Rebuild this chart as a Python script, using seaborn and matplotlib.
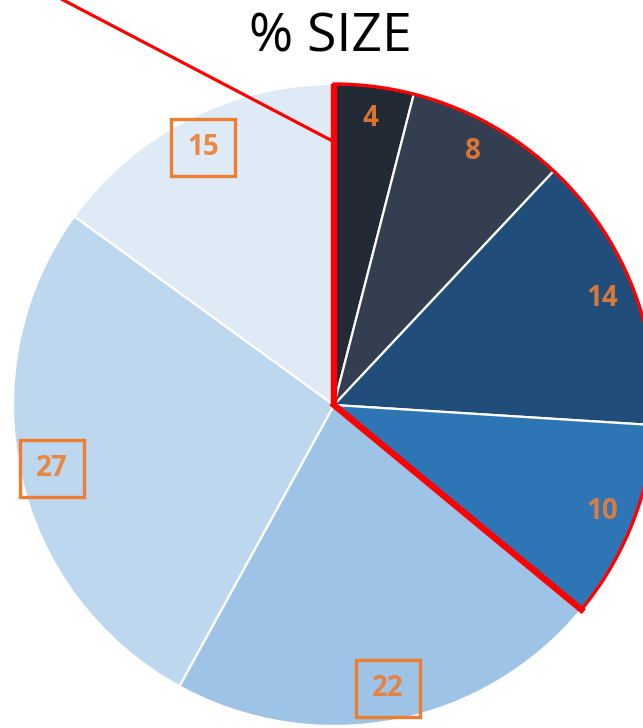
import numpy as np
import matplotlib
matplotlib.use("Agg")
import matplotlib.pyplot as plt
from matplotlib.patches import Wedge, Rectangle
import seaborn as sns

# Share of total size per segment, clockwise from 12 o'clock
segments = ["A", "B", "C", "D", "E", "F", "G"]
size_pct = [4, 8, 14, 10, 22, 27, 15]
colors = ["#222a35", "#333f50", "#204d79", "#2e75b6", "#9dc3e6", "#bdd7ee", "#deebf7"]
boxed = [False, False, False, False, True, True, True]
highlight_count = 4  # first four segments are outlined in red

sns.set_theme(style="white")
plt.rcParams["font.family"] = ["Open Sans", "DejaVu Sans"]

W, H, DPI = 643, 728, 100
fig = plt.figure(figsize=(W / DPI, H / DPI), dpi=DPI)
ax = fig.add_axes([0, 0, 1, 1])

scale = 321.0  # pixels per unit radius
cx, cy = 334.0, 405.0

palette = sns.color_palette(colors)
wedges, _ = ax.pie(
    size_pct,
    colors=palette,
    startangle=90,
    counterclock=False,
    radius=1.0,
    wedgeprops=dict(edgecolor="white", linewidth=1.6),
    frame=False,
)
ax.set_xlim(-cx / scale, (W - cx) / scale)
ax.set_ylim(-(H - cy) / scale, cy / scale)
ax.set_aspect("auto")
ax.axis("off")

orange = "#ed7d31"
box_w, box_h = 64 / scale, 57 / scale
total = float(sum(size_pct))
cum = 0.0
for v, b in zip(size_pct, boxed):
    mid = cum + v / 2.0
    cum += v
    ang = np.deg2rad(90 - 360 * mid / total)
    r = 0.90
    x, y = r * np.cos(ang), r * np.sin(ang)
    ax.text(x, y, f"{v}", ha="center", va="center", fontsize=20,
            fontweight="bold", color=orange, alpha=0.9, zorder=7)
    if b:
        ax.add_patch(Rectangle((x - box_w / 2, y - box_h / 2), box_w, box_h,
                               facecolor="none", edgecolor=orange,
                               linewidth=2.4, zorder=7))

# Red outline around the highlighted group of segments
hl_frac = sum(size_pct[:highlight_count]) / total
theta_end = 90.0
theta_start = 90.0 - 360.0 * hl_frac
ax.add_patch(Wedge((0, 0), 1.0, theta_start, theta_end, facecolor="none",
                   edgecolor="#ff0000", linewidth=2.4, zorder=5))
a0 = np.deg2rad(theta_start)
ax.plot([0, 0], [0, 1.0], color="#ff0000", linewidth=4.6, zorder=6,
        solid_capstyle="butt")
ax.plot([0, np.cos(a0)], [0, np.sin(a0)], color="#ff0000", linewidth=4.6,
        zorder=6, solid_capstyle="projecting")

# Pointer line into the highlighted group
ax.plot([-0.85, 0.0], [1.265, 0.82], color="#ff0000", linewidth=2.3,
        zorder=6, clip_on=False)

fig.text(0.514, 1 - 38 / H, "% SIZE", ha="center", va="center",
         fontsize=38.5, color="black")

fig.savefig("out.png", dpi=DPI)
